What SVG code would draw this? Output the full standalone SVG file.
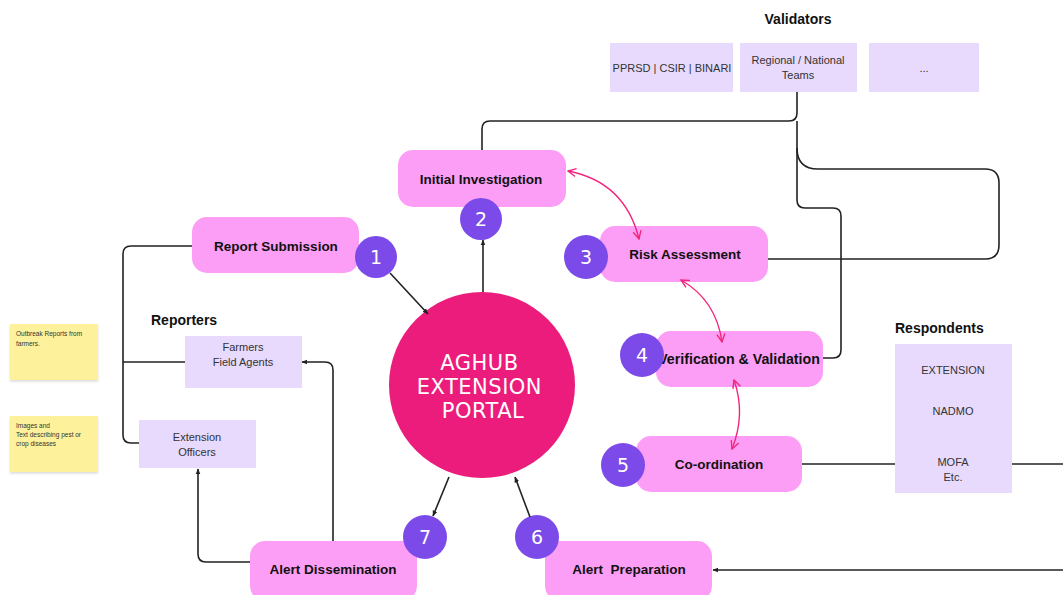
<svg xmlns="http://www.w3.org/2000/svg" width="1063" height="595" viewBox="0 0 1063 595">
<style>
.step{fill:#fd9ef6}
.num{fill:#7b4ae8}
.numt{font-family:"DejaVu Sans",sans-serif;font-size:19px;fill:#ffffff;text-anchor:middle}
.lbl{font-family:"Liberation Sans",Arial,sans-serif;font-size:13.5px;font-weight:bold;fill:#111111;text-anchor:middle}
.box{fill:#e8dafd}
.bt{font-family:"Liberation Sans",Arial,sans-serif;font-size:11px;fill:#333333;text-anchor:middle}
.ttl{font-family:"Liberation Sans",Arial,sans-serif;font-size:14px;font-weight:bold;fill:#111111}
.note{fill:#fdf29b}
.nt{font-family:"Liberation Sans",Arial,sans-serif;font-size:6.5px;fill:#333333}
.ln{fill:none;stroke:#222222;stroke-width:1.6}
.pk{fill:none;stroke:#f0287d;stroke-width:1.4}
</style>
<defs>
<marker id="ah" viewBox="0 0 10 10" refX="9" refY="5" markerWidth="6" markerHeight="6" orient="auto-start-reverse" markerUnits="userSpaceOnUse">
<path d="M0,1 L10,5 L0,9 z" fill="#222222"/>
</marker>
<marker id="pah" viewBox="0 0 10 10" refX="9" refY="5" markerWidth="10" markerHeight="10" orient="auto-start-reverse" markerUnits="userSpaceOnUse">
<path d="M1,1 L9,5 L1,9" fill="none" stroke="#f0287d" stroke-width="1.4"/>
</marker>
<filter id="sh" x="-10%" y="-10%" width="120%" height="130%">
<feDropShadow dx="0" dy="1.5" stdDeviation="1" flood-color="#000000" flood-opacity="0.15"/>
</filter>
</defs>

<g id="validators">
<text class="ttl" x="798" y="24" text-anchor="middle">Validators</text>
<rect class="box" x="610" y="43" width="123" height="49"/>
<text class="bt" x="672" y="72">PPRSD | CSIR | BINARI</text>
<rect class="box" x="740" y="43" width="117" height="49"/>
<text class="bt" x="798" y="64">Regional / National</text>
<text class="bt" x="798" y="79">Teams</text>
<rect class="box" x="869" y="43" width="110" height="49"/>
<text class="bt" x="924" y="72">...</text>
</g>

<g id="hub">
<circle cx="482" cy="385" r="93" fill="#ec1c7c"/>
<text font-family="'DejaVu Sans',sans-serif" font-size="21" fill="#ffffff" text-anchor="middle" letter-spacing="0.5">
<tspan x="483" y="370">AGHUB</tspan>
<tspan x="483" y="394">EXTENSION</tspan>
<tspan x="483" y="418">PORTAL</tspan>
</text>
</g>

<g id="step1">
<rect class="step" x="192" y="217" width="167" height="56" rx="15"/>
<text class="lbl" x="276" y="251">Report Submission</text>
<circle class="num" cx="376" cy="257" r="21"/>
<text class="numt" x="376" y="264">1</text>
</g>

<g id="step2">
<rect class="step" x="398" y="150" width="168" height="57" rx="15"/>
<text class="lbl" x="481" y="184">Initial Investigation</text>
<circle class="num" cx="481" cy="219" r="21"/>
<text class="numt" x="481" y="226">2</text>
</g>

<g id="step3">
<rect class="step" x="600" y="226" width="168" height="56" rx="15"/>
<text class="lbl" x="685" y="259">Risk Assessment</text>
<circle class="num" cx="586" cy="257" r="22"/>
<text class="numt" x="586" y="264">3</text>
</g>

<g id="step4">
<rect class="step" x="656" y="331" width="167" height="56" rx="15"/>
<text class="lbl" x="739" y="364" style="font-size:14.2px">Verification &amp; Validation</text>
<circle class="num" cx="642" cy="355" r="22"/>
<text class="numt" x="642" y="362">4</text>
</g>

<g id="step5">
<rect class="step" x="636" y="436" width="166" height="56" rx="15"/>
<text class="lbl" x="719" y="469">Co-ordination</text>
<circle class="num" cx="623" cy="465" r="22"/>
<text class="numt" x="623" y="472">5</text>
</g>

<g id="step6">
<rect class="step" x="545" y="541" width="167" height="60" rx="15"/>
<text class="lbl" x="629" y="574" xml:space="preserve">Alert  Preparation</text>
<circle class="num" cx="537" cy="537" r="22"/>
<text class="numt" x="537" y="544">6</text>
</g>

<g id="step7">
<rect class="step" x="250" y="541" width="167" height="60" rx="15"/>
<text class="lbl" x="333" y="574">Alert Dissemination</text>
<circle class="num" cx="425" cy="537" r="22"/>
<text class="numt" x="425" y="544">7</text>
</g>

<g id="reporters">
<text class="ttl" x="151" y="325">Reporters</text>
<rect class="box" x="185" y="336" width="117" height="52"/>
<text class="bt" x="243" y="351">Farmers</text>
<text class="bt" x="243" y="366">Field Agents</text>
<rect class="box" x="139" y="420" width="117" height="48"/>
<text class="bt" x="197" y="441">Extension</text>
<text class="bt" x="197" y="456">Officers</text>
</g>

<g id="respondents">
<text class="ttl" x="895" y="333">Respondents</text>
<rect class="box" x="895" y="344" width="117" height="149"/>
<text class="bt" x="953" y="374">EXTENSION</text>
<text class="bt" x="953" y="415">NADMO</text>
<text class="bt" x="953" y="466">MOFA</text>
<text class="bt" x="953" y="481">Etc.</text>
</g>

<g id="notes">
<rect class="note" x="10" y="324" width="88" height="56" filter="url(#sh)"/>
<text class="nt" x="16" y="336">Outbreak Reports from</text>
<text class="nt" x="16" y="346">farmers.</text>
<rect class="note" x="10" y="416" width="88" height="56" filter="url(#sh)"/>
<text class="nt" x="16" y="428">Images and</text>
<text class="nt" x="16" y="437">Text describing pest or</text>
<text class="nt" x="16" y="446">crop diseases</text>
</g>

<g id="connectors">
<path class="ln" d="M797,92 V113 Q797,121 789,121 H490 Q482,121 482,129 V150"/>
<path class="ln" d="M797,121 V148 Q797,169 818,169 H985 Q999,169 999,183 V245 Q999,259 985,259 H768"/>
<path class="ln" d="M797,148 V200 Q797,208 805,208 H833 Q841,208 841,216 V350 Q841,358 833,358 H823"/>
<path class="ln" d="M192,246 H131 Q123,246 123,254 V435 Q123,443 131,443 H139"/>
<path class="ln" d="M123,362 H185"/>
<path class="ln" marker-end="url(#ah)" d="M333,541 V370 Q333,362 325,362 H302"/>
<path class="ln" marker-end="url(#ah)" d="M250,562 H206 Q198,562 198,554 V469"/>
<path class="ln" marker-end="url(#ah)" d="M390,273 L428,314"/>
<path class="ln" marker-end="url(#ah)" d="M483,292 V240"/>
<path class="ln" marker-end="url(#ah)" d="M449,477 L433,516"/>
<path class="ln" marker-end="url(#ah)" d="M530,517 L515,477"/>
<path class="ln" d="M802,464 H895"/>
<path class="ln" d="M1012,464 H1063"/>
<path class="ln" marker-end="url(#ah)" d="M1063,570 H713"/>
<path class="pk" marker-start="url(#pah)" marker-end="url(#pah)" d="M568,171 Q625,182 639,239"/>
<path class="pk" marker-start="url(#pah)" marker-end="url(#pah)" d="M681,280 Q716,300 722,342"/>
<path class="pk" marker-start="url(#pah)" marker-end="url(#pah)" d="M734,380 Q746,414 732,449"/>
</g>
</svg>
